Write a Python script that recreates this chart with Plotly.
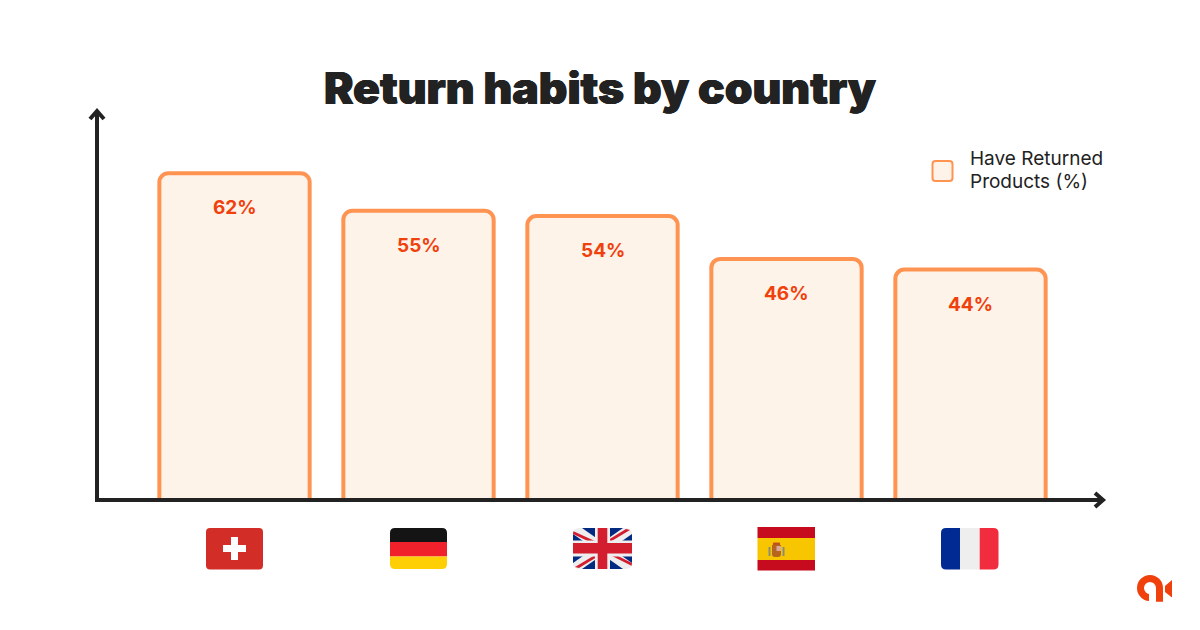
import plotly.graph_objects as go

countries = ["Switzerland", "Germany", "United Kingdom", "Spain", "France"]
values = [62, 55, 54, 46, 44]
labels = ["62%", "55%", "54%", "46%", "44%"]
title_text = "Return habits by country"
legend_lines = ["Have Returned", "Products (%)"]

W, H = 1200, 630
L, R, T, B = 97, 1105, 110, 500
INK = "#222222"
ORANGE = "#FF9452"
FILL = "#FEF3E8"
LABEL = "#F0400C"


def px(x):
    return round((x - L) / (R - L), 5)


def py(y):
    return round((B - y) / (B - T), 5)


def path(*cmds):
    out = []
    for c in cmds:
        out.append(c[0])
        pts = c[1:]
        for i in range(0, len(pts), 2):
            out.append(f"{px(pts[i])},{py(pts[i + 1])}")
    return " ".join(out)


def rr(x0, y0, x1, y1, tl=0, tr=0, br=0, bl=0):
    return path(("M", x0 + tl, y0), ("L", x1 - tr, y0), ("Q", x1, y0, x1, y0 + tr),
                ("L", x1, y1 - br), ("Q", x1, y1, x1 - br, y1),
                ("L", x0 + bl, y1), ("Q", x0, y1, x0, y1 - bl),
                ("L", x0, y0 + tl), ("Q", x0, y0, x0 + tl, y0)) + " Z"


shapes = []


def fill(d, color, line=None, lw=0):
    shapes.append(dict(type="path", xref="paper", yref="paper", path=d, fillcolor=color,
                       line=dict(color=line or color, width=lw), layer="above"))


def stroke(d, color, lw):
    shapes.append(dict(type="path", xref="paper", yref="paper", path=d,
                       fillcolor="rgba(0,0,0,0)", line=dict(color=color, width=lw), layer="above"))


# axes with arrowheads
stroke(path(("M", 97, 502), ("L", 97, 112)), INK, 4)
stroke(path(("M", 90, 119), ("L", 97, 111), ("L", 104, 119)), INK, 4)
stroke(path(("M", 95, 500), ("L", 1102, 500)), INK, 4)
stroke(path(("M", 1095, 493), ("L", 1103, 500), ("L", 1095, 507)), INK, 4)

# legend swatch
fill(rr(932.5, 161, 952.5, 181, 3, 3, 3, 3), FILL, ORANGE, 2)

# Switzerland
fill(rr(206, 528, 263, 569.5, 4, 4, 4, 4), "#D32D27")
fill(path(("M", 231, 537), ("L", 238, 537), ("L", 238, 545), ("L", 246, 545), ("L", 246, 552),
          ("L", 238, 552), ("L", 238, 560), ("L", 231, 560), ("L", 231, 552), ("L", 223, 552),
          ("L", 223, 545), ("L", 231, 545)) + " Z", "#FFFFFF")

# Germany
fill(rr(390, 528, 447, 542, 5, 5, 0, 0), "#141414")
fill(rr(390, 542, 447, 556.5), "#F0212A")
fill(rr(390, 556.5, 447, 569, 0, 0, 5, 5), "#FFCF06")

# United Kingdom
ux0, uy0, ux1, uy1 = 573, 528, 632, 569
fill(rr(ux0, uy0, ux1, uy1, 6, 6, 6, 6), "#012A80")
fill(path(("M", ux0, uy0), ("L", ux0 + 9, uy0), ("L", ux1, uy1 - 6), ("L", ux1, uy1),
          ("L", ux1 - 9, uy1), ("L", ux0, uy0 + 6)) + " Z", "#EEEEEE")
fill(path(("M", ux1, uy0), ("L", ux1, uy0 + 6), ("L", ux0 + 9, uy1), ("L", ux0, uy1),
          ("L", ux0, uy1 - 6), ("L", ux1 - 9, uy0)) + " Z", "#EEEEEE")
for d in [(ux0, uy0 + 3, 597, 542, 594, 544, ux0, uy0 + 6),
          (ux1, uy1 - 3, 610, 555, 612, 553, ux1, uy1 - 6),
          (ux1 - 2, uy0 + 2, 610, 542, 608, 540, ux1 - 6, uy0 + 1),
          (ux0 + 2, uy1 - 2, 595, 555, 597, 557, ux0 + 6, uy1 - 1)]:
    fill(path(("M", d[0], d[1]), ("L", d[2], d[3]), ("L", d[4], d[5]), ("L", d[6], d[7])) + " Z", "#D21E2F")
fill(rr(595, uy0, 610, uy1), "#EEEEEE")
fill(rr(ux0, 540.5, ux1, 556.5), "#EEEEEE")
fill(rr(597.7, uy0, 607.3, uy1), "#D21E2F")
fill(rr(ux0, 543, ux1, 553.5), "#D21E2F")
for cx, cy, sx, sy in [(ux0, uy0, 1, 1), (ux1, uy0, -1, 1), (ux1, uy1, -1, -1), (ux0, uy1, 1, -1)]:
    fill(path(("M", cx, cy), ("L", cx + 6 * sx, cy), ("Q", cx, cy, cx, cy + 6 * sy)) + " Z", "#FFFFFF")

# Spain
fill(rr(757.5, 527, 815, 538), "#C60B1E")
fill(rr(757.5, 538, 815, 560), "#F8C600")
fill(rr(757.5, 560, 815, 570.5), "#C60B1E")
fill(rr(772, 545, 781, 557, 0, 0, 3, 3), "#B5651D")
fill(rr(776.5, 546, 781, 551), "#D9A8A0")
fill(rr(773, 542.5, 780, 545, 1, 1, 0, 0), "#C0501E")
fill(rr(768.5, 547, 770.5, 556), "#8C8C7A")
fill(rr(782.5, 547, 784.5, 556), "#8C8C7A")

# France
fill(rr(941, 528, 960, 569.5, 5, 0, 0, 5), "#012A93")
fill(rr(960, 528, 979.7, 569.5), "#EEEEEE")
fill(rr(979.7, 528, 998.5, 569.5, 0, 5, 5, 0), "#F22C3F")

# logo
cx, cy, r = 1150, 588, 9.5
k = 5.2
stroke(path(("M", cx - 1, cy + r), ("C", cx - k, cy + r, cx - r, cy + k, cx - r, cy),
            ("C", cx - r, cy - k, cx - k, cy - r, cx, cy - r),
            ("C", cx + k, cy - r, cx + r, cy - k, cx + r, cy), ("L", cx + r, 601.7)), "#F0400C", 7)
fill(path(("M", 1172, 580), ("L", 1172, 597.5), ("L", 1165, 592), ("L", 1165, 586)) + " Z", "#F0400C")

fig = go.Figure(go.Bar(
    x=list(range(len(countries))), y=values, width=0.817,
    customdata=countries, hovertemplate="%{customdata}: %{y}%<extra></extra>",
    marker=dict(color=FILL, line=dict(color=ORANGE, width=4)),
    showlegend=False,
))

annotations = [dict(x=i, y=v, text=t, xref="x", yref="y", showarrow=False, yshift=-34.5,
                    font=dict(family="Inter", size=19, color=LABEL, weight=700))
               for i, (v, t) in enumerate(zip(values, labels))]
for line, yy in zip(legend_lines, [158.5, 181.5]):
    annotations.append(dict(x=px(968.5), y=py(yy), xref="paper", yref="paper", text=line,
                            showarrow=False, xanchor="left", yanchor="middle", align="left",
                            font=dict(family="Inter", size=19, color=INK)))

fig.update_layout(
    width=W, height=H, autosize=False,
    margin=dict(l=L, r=W - R, t=T, b=H - B, pad=0),
    paper_bgcolor="#FFFFFF", plot_bgcolor="#FFFFFF",
    barcornerradius=9,
    title=dict(text=title_text, x=0.5, xanchor="center", xref="container",
               y=1 - 88 / H, yanchor="middle", yref="container",
               font=dict(family="Inter", size=44.4, color=INK, weight=900,
                         shadow="0.5px 0 0 #222222, -0.5px 0 0 #222222")),
    xaxis=dict(range=[-(234.5 - L) / 184, (R - 234.5) / 184], visible=False, fixedrange=True),
    yaxis=dict(range=[0.935, 73.83], visible=False, fixedrange=True),
    shapes=shapes, annotations=annotations, showlegend=False,
)
fig.write_html("out.html", config=dict(displayModeBar=False),
               post_script="document.body.style.margin='0';document.body.style.overflow='hidden';")
